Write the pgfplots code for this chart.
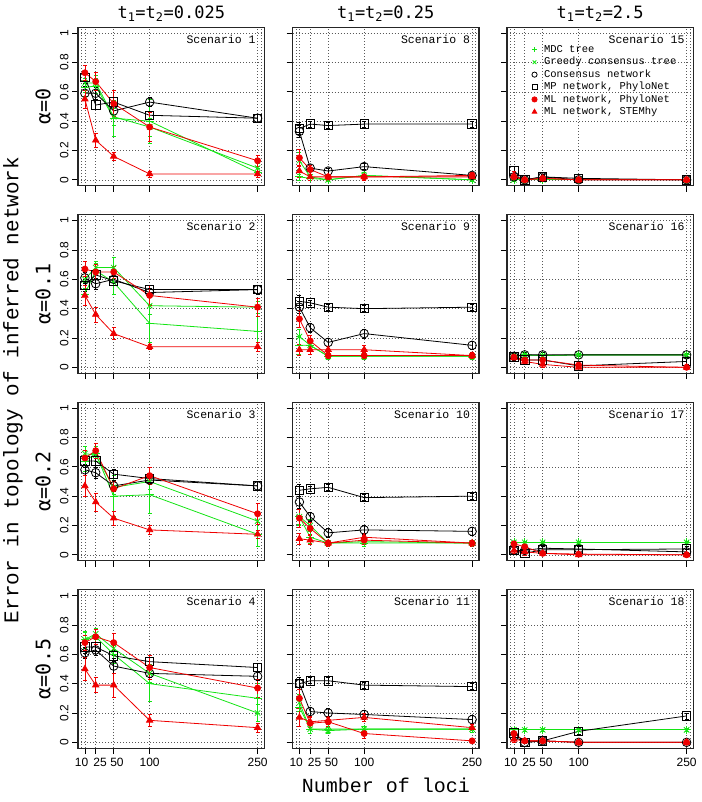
\documentclass[border=0pt]{standalone}
\usepackage{pgfplots}
\pgfplotsset{compat=1.18}
\usepackage{pgfplotstable}
\usepackage{fontspec}
\setmainfont{Liberation Mono}
\setmonofont{Liberation Mono}
\newfontfamily\djm{DejaVu Sans Mono}
\newfontfamily\lsans{Liberation Sans}
\definecolor{mygreen}{RGB}{20,228,20}
\definecolor{myred}{RGB}{238,0,0}

% columns: x, MDC, Greedy, Consensus net, MP net, ML PhyloNet, ML STEMhy (value + error)
\pgfplotstableread{
x m me g ge c ce p pe l le s se
10 0.63 0.06 0.66 0.06 0.59 0.05 0.70 0.04 0.73 0.05 0.55 0.06
25 0.64 0.05 0.66 0.05 0.59 0.04 0.51 0.03 0.67 0.06 0.27 0.05
50 0.42 0.12 0.43 0.06 0.47 0.04 0.53 0.03 0.52 0.09 0.16 0.03
100 0.40 0.15 0.36 0.06 0.53 0.03 0.44 0.03 0.36 0.10 0.04 0.02
250 0.05 0.03 0.08 0.03 0.42 0.03 0.42 0.03 0.13 0.04 0.04 0.02
}\tA
\pgfplotstableread{
x m me g ge c ce p pe l le s se
10 0.02 0.02 0.13 0.06 0.33 0.04 0.35 0.04 0.15 0.06 0.06 0.04
25 0.01 0.01 0.02 0.02 0.08 0.02 0.38 0.02 0.07 0.03 0.02 0.02
50 0.00 0.01 0.00 0.01 0.06 0.02 0.37 0.02 0.02 0.02 0.02 0.01
100 0.03 0.02 0.03 0.02 0.09 0.02 0.38 0.02 0.02 0.02 0.02 0.02
250 0.00 0.01 0.00 0.01 0.03 0.01 0.38 0.02 0.03 0.02 0.02 0.01
}\tH
\pgfplotstableread{
x m me g ge c ce p pe l le s se
10 0.00 0.01 0.00 0.01 0.02 0.01 0.06 0.03 0.02 0.02 0.03 0.03
25 0.00 0.00 0.00 0.00 0.00 0.01 0.00 0.01 0.00 0.01 0.00 0.01
50 0.00 0.00 0.00 0.00 0.02 0.01 0.02 0.02 0.01 0.01 0.01 0.01
100 0.00 0.00 0.00 0.00 0.00 0.01 0.01 0.01 0.00 0.01 0.00 0.01
250 0.00 0.00 0.00 0.00 0.00 0.00 0.00 0.01 0.00 0.01 0.00 0.00
}\tO
\pgfplotstableread{
x m me g ge c ce p pe l le s se
10 0.50 0.08 0.60 0.06 0.61 0.04 0.56 0.04 0.67 0.05 0.49 0.07
25 0.66 0.05 0.68 0.04 0.57 0.04 0.63 0.03 0.65 0.05 0.36 0.05
50 0.58 0.08 0.68 0.07 0.60 0.04 0.59 0.03 0.65 0.04 0.23 0.04
100 0.30 0.13 0.42 0.06 0.51 0.03 0.53 0.03 0.49 0.07 0.14 0.02
250 0.245 0.10 0.41 0.04 0.53 0.03 0.53 0.03 0.41 0.06 0.14 0.03
}\tB
\pgfplotstableread{
x m me g ge c ce p pe l le s se
10 0.15 0.06 0.21 0.05 0.41 0.04 0.45 0.04 0.33 0.06 0.12 0.04
25 0.15 0.04 0.15 0.03 0.27 0.03 0.44 0.02 0.18 0.04 0.12 0.03
50 0.075 0.02 0.075 0.02 0.17 0.03 0.41 0.02 0.08 0.02 0.12 0.02
100 0.075 0.02 0.075 0.02 0.23 0.03 0.40 0.02 0.08 0.02 0.12 0.03
250 0.075 0.02 0.075 0.02 0.15 0.03 0.41 0.02 0.08 0.02 0.08 0.02
}\tI
\pgfplotstableread{
x m me g ge c ce p pe l le s se
10 0.075 0.01 0.075 0.01 0.075 0.02 0.07 0.02 0.07 0.02 0.065 0.02
25 0.085 0.01 0.085 0.01 0.085 0.02 0.05 0.02 0.05 0.02 0.04 0.02
50 0.08 0.01 0.08 0.01 0.085 0.02 0.05 0.02 0.05 0.02 0.02 0.02
100 0.085 0.01 0.085 0.01 0.085 0.01 0.01 0.01 0.015 0.01 0.00 0.01
250 0.085 0.01 0.085 0.01 0.085 0.01 0.04 0.02 0.00 0.01 0.00 0.01
}\tP
\pgfplotstableread{
x m me g ge c ce p pe l le s se
10 0.64 0.07 0.69 0.05 0.58 0.04 0.64 0.04 0.66 0.05 0.47 0.07
25 0.69 0.05 0.68 0.04 0.56 0.04 0.64 0.04 0.71 0.05 0.36 0.06
50 0.40 0.14 0.46 0.05 0.47 0.04 0.55 0.03 0.45 0.05 0.25 0.05
100 0.41 0.13 0.50 0.05 0.51 0.03 0.52 0.03 0.54 0.06 0.17 0.03
250 0.14 0.08 0.23 0.06 0.47 0.03 0.47 0.03 0.28 0.07 0.14 0.03
}\tC
\pgfplotstableread{
x m me g ge c ce p pe l le s se
10 0.26 0.06 0.26 0.05 0.36 0.04 0.44 0.04 0.25 0.06 0.11 0.04
25 0.12 0.04 0.20 0.04 0.26 0.03 0.45 0.02 0.18 0.04 0.10 0.03
50 0.08 0.02 0.08 0.02 0.15 0.03 0.46 0.02 0.08 0.02 0.08 0.02
100 0.08 0.02 0.09 0.02 0.17 0.03 0.39 0.02 0.10 0.03 0.12 0.03
250 0.08 0.02 0.08 0.02 0.16 0.03 0.40 0.02 0.08 0.02 0.08 0.02
}\tJ
\pgfplotstableread{
x m me g ge c ce p pe l le s se
10 0.085 0.01 0.085 0.01 0.03 0.02 0.03 0.02 0.075 0.02 0.03 0.02
25 0.085 0.01 0.085 0.01 0.03 0.02 0.01 0.01 0.055 0.02 0.02 0.02
50 0.085 0.01 0.085 0.01 0.045 0.02 0.035 0.02 0.01 0.01 0.01 0.01
100 0.085 0.01 0.085 0.01 0.04 0.02 0.035 0.02 0.005 0.01 0.00 0.01
250 0.085 0.01 0.085 0.01 0.02 0.02 0.04 0.02 0.00 0.01 0.00 0.01
}\tQ
\pgfplotstableread{
x m me g ge c ce p pe l le s se
10 0.70 0.06 0.70 0.05 0.61 0.04 0.65 0.04 0.68 0.05 0.50 0.08
25 0.72 0.05 0.74 0.04 0.63 0.04 0.65 0.03 0.72 0.05 0.39 0.05
50 0.60 0.06 0.64 0.05 0.52 0.05 0.59 0.04 0.68 0.06 0.39 0.08
100 0.40 0.12 0.47 0.06 0.47 0.03 0.55 0.03 0.51 0.08 0.15 0.04
250 0.30 0.10 0.20 0.06 0.45 0.03 0.51 0.03 0.37 0.06 0.10 0.03
}\tD
\pgfplotstableread{
x m me g ge c ce p pe l le s se
10 0.24 0.06 0.27 0.06 0.40 0.04 0.40 0.04 0.30 0.06 0.17 0.06
25 0.09 0.03 0.09 0.03 0.21 0.03 0.42 0.02 0.13 0.04 0.14 0.04
50 0.09 0.02 0.08 0.02 0.20 0.03 0.42 0.02 0.14 0.03 0.15 0.03
100 0.09 0.02 0.09 0.02 0.19 0.03 0.39 0.02 0.06 0.03 0.17 0.03
250 0.09 0.02 0.09 0.02 0.155 0.03 0.38 0.02 0.01 0.01 0.10 0.02
}\tK
\pgfplotstableread{
x m me g ge c ce p pe l le s se
10 0.085 0.01 0.085 0.01 0.04 0.02 0.065 0.03 0.06 0.03 0.02 0.02
25 0.085 0.01 0.085 0.01 0.00 0.01 0.00 0.01 0.01 0.01 0.01 0.01
50 0.085 0.01 0.085 0.01 0.01 0.01 0.01 0.01 0.01 0.01 0.01 0.01
100 0.085 0.01 0.085 0.01 0.00 0.01 0.075 0.02 0.00 0.01 0.00 0.01
250 0.085 0.01 0.085 0.01 0.00 0.01 0.18 0.02 0.00 0.01 0.00 0.01
}\tR

\tikzset{scen/.style={anchor=east, font=\fontsize{11.5}{13}\selectfont\ttfamily, inner sep=0pt}}
\pgfplotsset{
  eb/.style={error bars/y dir=both, error bars/y explicit,
    error bars/error bar style={line width=0.6pt, solid},
    error bars/error mark options={rotate=90, mark size=2pt, line width=0.6pt}},
  mdcs/.style={mygreen, mark=+, mark size=4pt, line width=0.8pt, eb},
  grds/.style={mygreen, mark=x, mark size=3.8pt, line width=0.8pt, eb},
  cnss/.style={black, mark=o, mark size=4.3pt, line width=0.8pt, eb},
  mpns/.style={black, mark=square, mark size=4.2pt, line width=0.8pt, eb},
  mlps/.style={myred, mark=*, mark size=3pt, line width=0.8pt, eb},
  stms/.style={myred, mark=triangle*, mark size=3.6pt, line width=0.8pt, eb},
  base/.style={
    scale only axis, width=186.5pt, height=158.4pt, anchor=south west,
    xmin=0.4, xmax=259.6, ymin=-0.04, ymax=1.04,
    xtick={10,25,50,100,250}, ytick={0,0.2,0.4,0.6,0.8,1},
    minor xtick={5,255},
    xticklabels={}, yticklabels={},
    xtick pos=bottom, ytick pos=left,
    tick align=outside, major tick length=6pt, minor tick length=0pt,
    tick style={black, line width=0.8pt},
    grid=both,
    major grid style={black!65, line width=0.6pt, dash pattern=on 0.8pt off 2.2pt},
    minor grid style={black!65, line width=0.6pt, dash pattern=on 0.8pt off 2.2pt},
    axis line style={black!85, line width=1.1pt},
    clip=false,
    xticklabel style={font=\fontsize{12}{14}\selectfont\lsans},
    yticklabel style={font=\fontsize{12}{14}\selectfont\lsans, rotate=90, anchor=south},
  },
  ylab/.style={yticklabels={0,0.2,0.4,0.6,0.8,1}},
  xlab/.style={extra x ticks={5.5,31,54.5,100,250},
    extra x tick labels={10,25,50,100,250},
    extra x tick style={grid=none, tick style={draw opacity=0}}},
  legpanel/.style={
    legend image code/.code={\draw[##1, mark size=2.6pt] plot coordinates {(4pt,0pt)}; \path[draw=none, fill=none] (0pt,0pt) (13pt,0pt);},
    legend style={draw=none, fill=none, at={(0.125,0.893)}, anchor=north west,
      font=\fontsize{10.5}{12}\selectfont\ttfamily, inner sep=0pt, row sep=1.6pt,
      nodes={inner sep=0.5pt, text height=7.5pt, text depth=2.3pt}},
    legend cell align=left},
}

\newcommand{\panel}[6]{%
\begin{axis}[base, at={(#1pt,#2pt)}, #5]
\addplot[mdcs] table[x=x,y=m,y error=me]{#3};
\addplot[grds] table[x=x,y=g,y error=ge]{#3};
\addplot[cnss] table[x=x,y=c,y error=ce]{#3};
\addplot[mpns] table[x=x,y=p,y error=pe]{#3};
\addplot[mlps] table[x=x,y=l,y error=le]{#3};
\addplot[stms] table[x=x,y=s,y error=se]{#3};
\node[scen] at (rel axis cs:0.953,0.924) {#4};
#6
\end{axis}}

\newcommand{\legentries}{%
  \addlegendentry{MDC tree}
  \addlegendentry{Greedy consensus tree}
  \addlegendentry{Consensus network}
  \addlegendentry{MP network, PhyloNet}
  \addlegendentry{ML network, PhyloNet}
  \addlegendentry{ML network, STEMhy}}

\begin{document}
\begin{tikzpicture}[x=1pt,y=1pt]
\useasboundingbox (0,0) rectangle (701,802);
% row 1
\panel{78}{616.3}{\tA}{Scenario 1\hspace{4.5pt}}{ylab}{}
\panel{292.5}{616.3}{\tH}{Scenario 8\hspace{4.5pt}}{}{}
\panel{507}{616.3}{\tO}{Scenario 15}{legpanel}{\legentries}
% row 2
\panel{78}{428.8}{\tB}{Scenario 2\hspace{4.5pt}}{ylab}{}
\panel{292.5}{428.8}{\tI}{Scenario 9\hspace{4.5pt}}{}{}
\panel{507}{428.8}{\tP}{Scenario 16}{}{}
% row 3
\panel{78}{241.3}{\tC}{Scenario 3\hspace{4.5pt}}{ylab}{}
\panel{292.5}{241.3}{\tJ}{Scenario 10}{}{}
\panel{507}{241.3}{\tQ}{Scenario 17}{}{}
% row 4
\panel{78}{53.8}{\tD}{Scenario 4\hspace{4.5pt}}{ylab,xlab}{}
\panel{292.5}{53.8}{\tK}{Scenario 11}{xlab}{}
\panel{507}{53.8}{\tR}{Scenario 18}{xlab}{}
% titles and labels
\node[font=\djm\fontsize{17}{20}\selectfont] at (171.3,788) {t\textsubscript{1}=t\textsubscript{2}=0.025};
\node[font=\djm\fontsize{17}{20}\selectfont] at (385.7,788) {t\textsubscript{1}=t\textsubscript{2}=0.25};
\node[font=\djm\fontsize{17}{20}\selectfont] at (600.2,788) {t\textsubscript{1}=t\textsubscript{2}=2.5};
\node[rotate=90, font=\djm\fontsize{20}{24}\selectfont] at (43,695.5) {α=0};
\node[rotate=90, font=\djm\fontsize{20}{24}\selectfont] at (43,508) {α=0.1};
\node[rotate=90, font=\djm\fontsize{20}{24}\selectfont] at (43,320.5) {α=0.2};
\node[rotate=90, font=\djm\fontsize{20}{24}\selectfont] at (43,133) {α=0.5};
\node[rotate=90, font=\ttfamily\fontsize{21}{24}\selectfont] at (13,412) {Error in topology of inferred network};
\node[font=\ttfamily\fontsize{20}{24}\selectfont] at (386,17) {Number of loci};
\end{tikzpicture}
\end{document}
